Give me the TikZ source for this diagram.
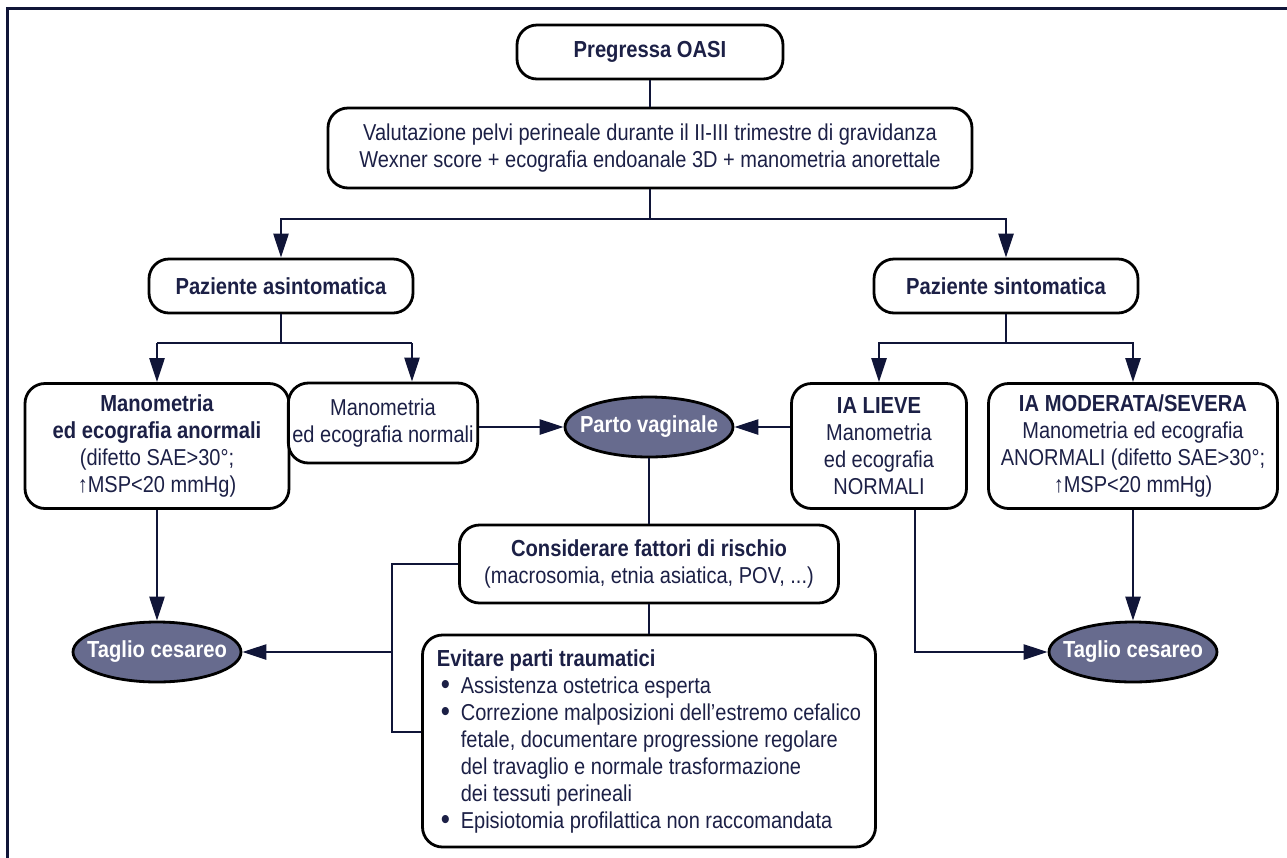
\documentclass[tikz,border=0pt]{standalone}
\usepackage{fontspec}
\setmainfont[FakeStretch=0.87]{Liberation Sans}
\usetikzlibrary{arrows.meta,shapes.geometric}
\definecolor{navy}{HTML}{101538}
\definecolor{textnavy}{HTML}{1C2046}
\definecolor{ovalfill}{HTML}{676B8E}
\newcommand{\bfont}{\fontsize{11.6}{13.5}\selectfont\bfseries}
\newcommand{\hd}[1]{{\bfont #1}}
\newcommand{\ovtext}[1]{\makebox[0pt]{#1}}
\tikzset{
  box/.style={draw=black, line width=1.4pt, rounded corners=10pt, fill=white,
    align=center, text=textnavy, inner sep=2pt},
  oval/.style={ellipse, draw=black, line width=1.4pt, fill=ovalfill, text=white,
    font=\bfont, minimum width=84pt, minimum height=30pt, inner sep=0pt},
  conn/.style={navy, line width=1.3pt},
  arr/.style={conn, -{Triangle[length=12pt,width=7.5pt]}}
}
\newcommand{\bul}{\makebox[12pt][l]{\hspace{2pt}{\fontsize{15}{13.5}\selectfont\raisebox{-0.6pt}{\textbullet}}}}
\newcommand{\ind}{\makebox[12pt]{}}
\begin{document}
\begin{tikzpicture}[x=0.5pt,y=-0.5pt,font=\fontsize{11.5}{13.5}\selectfont]
\useasboundingbox (0,0) rectangle (1287,858);

% frame
\draw[conn,line width=1.5pt] (7,858) -- (7,8) -- (1287,8);

% top of the tree
\node[box,minimum width=133pt,minimum height=27pt,font=\bfont] (oasi) at (650,52) {Pregressa OASI};
\node[box,minimum width=322pt,minimum height=40pt] (valut) at (650,148)
  {Valutazione pelvi perineale durante il II-III trimestre di gravidanza\\
   Wexner score + ecografia endoanale 3D + manometria anorettale};

% patients
\node[box,minimum width=132pt,minimum height=27pt,font=\bfont] (asint) at (281,286) {Paziente asintomatica};
\node[box,minimum width=132pt,minimum height=27pt,font=\bfont] (sint) at (1006,286) {Paziente sintomatica};

% second level
\node[box,minimum width=132pt,minimum height=62.5pt] (anorm) at (157,446)
  {\hd{Manometria}\\ \hd{ed ecografia anormali}\\ (difetto SAE>30°;\\ ↑MSP<20 mmHg)};
\node[box,minimum width=75pt,minimum height=40pt] (norm) at (383,423)
  {Manometria\\ ed ecografia normali};
\node[box,minimum width=87.5pt,minimum height=62.5pt] (lieve) at (879,446)
  {\hd{IA LIEVE}\\ Manometria\\ ed ecografia\\ NORMALI};
\node[box,minimum width=144.5pt,minimum height=62.5pt] (moder) at (1133,446)
  {\hd{IA MODERATA/SEVERA}\\ Manometria ed ecografia\\ ANORMALI (difetto SAE>30°;\\ ↑MSP<20 mmHg)};

% outcomes
\node[oval] (parto) at (649,427) {\ovtext{Parto vaginale}};
\node[oval] (taglioL) at (157,652) {\ovtext{Taglio cesareo}};
\node[oval] (taglioR) at (1133,652) {\ovtext{Taglio cesareo}};

% risk factors and advice
\node[box,minimum width=189.5pt,minimum height=39pt] (consid) at (649,564)
  {\hd{Considerare fattori di rischio}\\ (macrosomia, etnia asiatica, POV, ...)};
\node[box,minimum width=226.5pt,minimum height=106pt,align=left] (evit) at (649,741)
  {\hd{Evitare parti traumatici}\\
   \bul Assistenza ostetrica esperta\\
   \bul Correzione malposizioni dell’estremo cefalico\\
   \ind fetale, documentare progressione regolare\\
   \ind del travaglio e normale trasformazione\\
   \ind dei tessuti perineali\\
   \bul Episiotomia profilattica non raccomandata};

% branch points
\coordinate (split1) at (650,219);
\coordinate (split2) at (281,343);
\coordinate (s2l) at (157,343);
\coordinate (s2r) at (412,343);
\coordinate (split3) at (1006,343);
\coordinate (brtop) at (392,564);
\coordinate (brbot) at (392,732);
\coordinate (lvdrop) at (915,652);

% connectors top
\draw[conn] (oasi) -- (valut);
\draw[conn] (valut) -- (split1);
\draw[arr] (split1) -| (asint);
\draw[arr] (split1) -| (sint);

% asymptomatic branch
\draw[conn] (asint) -- (split2);
\draw[conn] (s2l) -- (s2r);
\draw[arr] (s2l) -- (s2l |- anorm.north);
\draw[arr] (s2r) -- (s2r |- norm.north);

% symptomatic branch
\draw[conn] (sint) -- (split3);
\draw[arr] (split3) -| (lieve);
\draw[arr] (split3) -| (moder);

% into parto vaginale
\draw[arr] (parto -| norm.east) -- (parto);
\draw[arr] (parto -| lieve.west) -- (parto);
\draw[conn] (parto) -- (consid);
\draw[conn] (consid) -- (evit);

% bracket to taglio cesareo
\draw[conn] (consid.west) -- (brtop) -- (brbot) -- (brbot -| evit.west);
\draw[arr] (brtop |- taglioL) -- (taglioL);
\draw[arr] (anorm) -- (taglioL);

% right side to taglio cesareo
\draw[arr] (moder) -- (taglioR);
\draw[arr] (lvdrop |- lieve.south) -- (lvdrop) -- (taglioR);
\end{tikzpicture}
\end{document}
